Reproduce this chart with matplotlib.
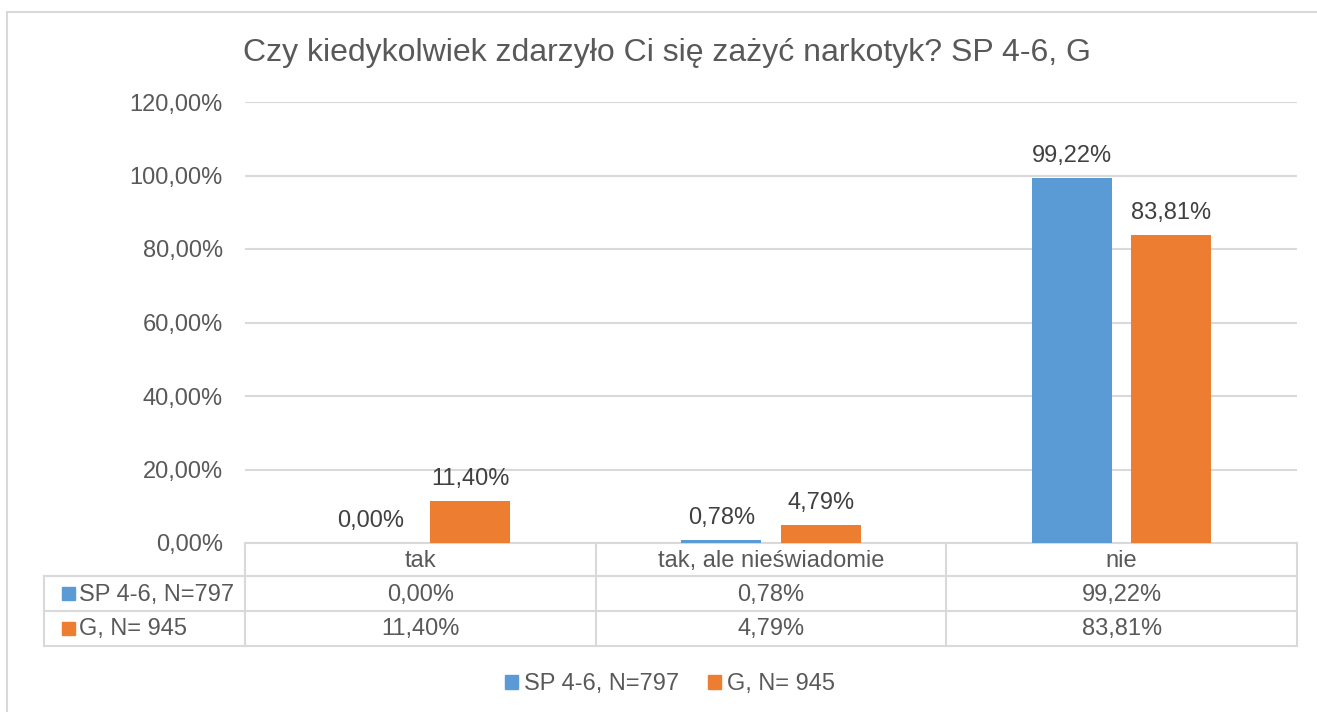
import numpy as np
import matplotlib
matplotlib.use("Agg")
import matplotlib.pyplot as plt
import matplotlib.transforms as mtransforms
from matplotlib.patches import Rectangle, Patch

# data
categories = ['tak', 'tak, ale nieświadomie', 'nie']
series_names = ['SP 4-6, N=797', 'G, N= 945']
sp_values = [0.00, 0.78, 99.22]
g_values = [11.40, 4.79, 83.81]
y_ticks = [0, 20, 40, 60, 80, 100, 120]

colors = ['#5B9BD5', '#ED7D31']
text_col = '#595959'
label_col = '#404040'
grid_col = '#D9D9D9'
fs = 17

plt.rcParams['font.family'] = ['Liberation Sans', 'DejaVu Sans']

W, H = 1317, 712
fig = plt.figure(figsize=(W / 100, H / 100), dpi=100)

def fx(px):
    return px / W

def fy(py):
    return 1 - py / H

# outer chart border (only top/left visible in the crop)
fig.add_artist(Rectangle((fx(7), fy(H + 20)), fx(W + 20), fy(12) - fy(H + 20),
                         transform=fig.transFigure, fill=False,
                         edgecolor=grid_col, linewidth=1.5))

ax = fig.add_axes([fx(245), fy(543), fx(1297) - fx(245), fy(102) - fy(543)])

x = np.arange(len(categories))
width = 0.228
offset = 0.142
def pct(v):
    return f"{v:.2f}%".replace('.', ',')

for vals, sign, c in [(sp_values, -1, colors[0]), (g_values, 1, colors[1])]:
    bars = ax.bar(x + sign * offset, vals, width, color=c, zorder=3)
    for b, v in zip(bars, vals):
        ax.annotate(pct(v), (b.get_x() + b.get_width() / 2, v),
                    xytext=(0, 11.5), textcoords='offset points',
                    ha='center', va='baseline', fontsize=fs, color=label_col)

ax.set_xlim(-0.5, len(categories) - 0.5)
ax.set_ylim(0, 120)
ax.set_yticks(y_ticks)
ax.set_yticklabels([f"{t:.2f}%".replace('.', ',') for t in y_ticks],
                   fontsize=fs, color=text_col)
ax.tick_params(axis='y', length=0, pad=16)
ax.set_xticks([])
ax.grid(axis='y', color=grid_col, linewidth=1.5, zorder=0)
for s in ax.spines.values():
    s.set_visible(False)

# data table below the plot
trans = mtransforms.blended_transform_factory(ax.transData, ax.transAxes)
ax_h = 543 - 102
def ry(py):
    return -(py - 543) / ax_h

left_edge = -0.5 - (245 - 44) / (1297 - 245) * 3
row_lines = [543, 576, 611, 646]
col_lines = [-0.5, 0.5, 1.5, 2.5]
line_kw = dict(color=grid_col, linewidth=1.5, transform=trans, clip_on=False)

ax.plot([-0.5, 2.5], [ry(543), ry(543)], **line_kw)
for py in row_lines[1:]:
    ax.plot([left_edge, 2.5], [ry(py), ry(py)], **line_kw)
for cx in col_lines:
    ax.plot([cx, cx], [ry(543), ry(646)], **line_kw)
ax.plot([left_edge, left_edge], [ry(576), ry(646)], **line_kw)

for i, cat in enumerate(categories):
    ax.text(i, ry(561), cat, transform=trans, ha='center', va='center',
            fontsize=fs, color=text_col)
rows = [sp_values, g_values]
row_mid = [594.5, 629.5]
for r, vals in enumerate(rows):
    for i, v in enumerate(vals):
        ax.text(i, ry(row_mid[r]), pct(v), transform=trans, ha='center',
                va='center', fontsize=fs, color=text_col)
    fig.add_artist(Rectangle((fx(62), fy(row_mid[r] + 5.5)), fx(13), fy(0) - fy(13),
                             transform=fig.transFigure, color=colors[r]))
    fig.text(fx(79), fy(row_mid[r]), series_names[r], ha='left', va='center',
             fontsize=fs, color=text_col)

# title
fig.text(fx(667), fy(53), 'Czy kiedykolwiek zdarzyło Ci się zażyć narkotyk? SP 4-6, G',
         ha='center', va='center', fontsize=23, color=text_col)

# legend
handles = [Patch(color=c) for c in colors]
leg = fig.legend(handles, series_names, loc='center',
                 bbox_to_anchor=(fx(670), fy(684)), ncol=2, frameon=False,
                 fontsize=fs, handlelength=0.55, handleheight=0.55,
                 handletextpad=0.25, columnspacing=1.25)
for t in leg.get_texts():
    t.set_color(text_col)

fig.savefig('out.png', dpi=100, facecolor='white')
